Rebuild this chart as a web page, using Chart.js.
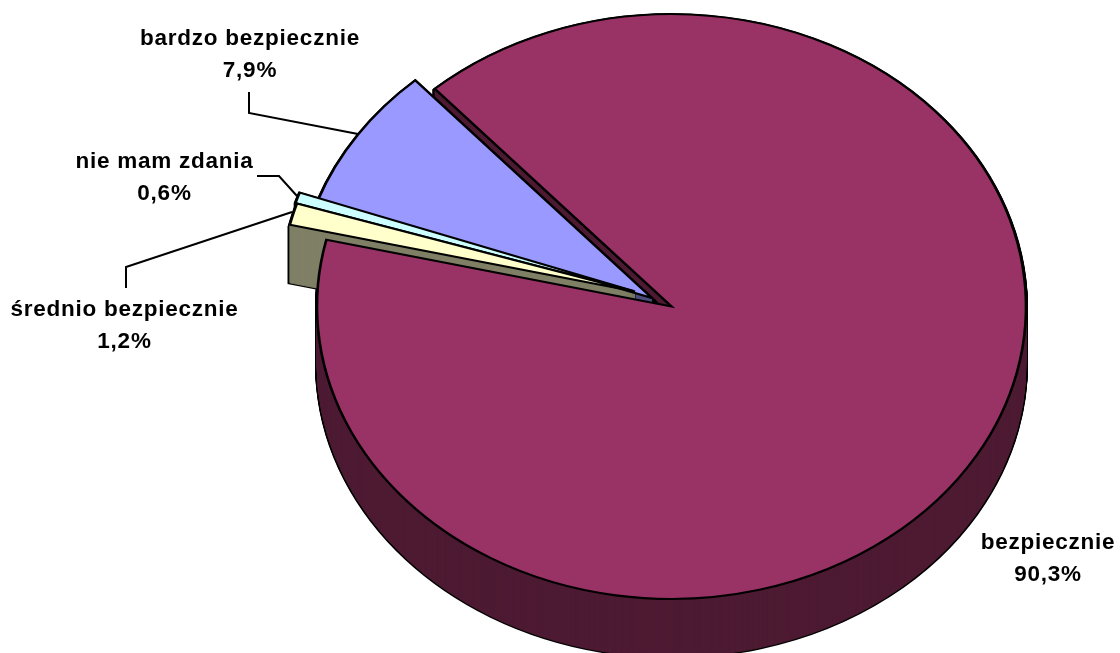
<!DOCTYPE html>
<html>
<head>
<meta charset="utf-8">
<title>Pie</title>
<script src="https://cdn.jsdelivr.net/npm/chart.js@4"></script>
<style>
    html, body { margin: 0; padding: 0; background: #fff; }
    canvas { display: block; }
</style>
</head>
<body>
<canvas id="pie" width="1120" height="653"></canvas>
<script>
    // Chart data
    var categories = ["bezpiecznie", "średnio bezpiecznie", "nie mam zdania", "bardzo bezpiecznie"];
    var shares = [90.3, 1.2, 0.6, 7.9];

    // Slice styles
    var topColors = ["#993366", "#ffffcc", "#ccffff", "#9999ff"];
    var wallColors = ["#4d1a33", "#808066", "#668080", "#4d4d80"];

    // Fake 3D: tilt, thickness and how far each slice is pulled out
    var pieCenter = {x: 671.5, y: 306.5};
    var pieRadius = 354.5;
    var tilt = 0.825;
    var depth = 58;
    var explode = [[0, 0], [-36.5, -15], [-38, -15.5], [-19.5, -8.5]];
    var wallOrder = [0, 3, 2, 1];

    // Label centres and leader lines
    var labelPos = [
        {x: 1048, y: 543},
        {x: 124.5, y: 310},
        {x: 164.5, y: 162},
        {x: 250, y: 39}
    ];
    var leaders = [
        [],
        [[126, 288], [126, 267], [292, 212]],
        [[257, 176], [279, 176], [297, 196]],
        [[249, 92], [249, 113], [358, 134]]
    ];

    function percentText(value) {
        return value.toFixed(1).replace(".", ",") + "%";
    }

    function drawSlice(ctx, arc, i, drop, style) {
        var saved = arc.options;
        ctx.save();
        ctx.translate(pieCenter.x + explode[i][0], pieCenter.y + explode[i][1] + drop);
        ctx.scale(1, tilt);
        ctx.translate(-arc.x, -arc.y);
        arc.options = Object.assign({}, saved, style);
        arc.draw(ctx);
        arc.options = saved;
        ctx.restore();
    }

    var pie3d = {
        id: "pie3d",
        beforeDatasetsDraw: function (chart) {
            var ctx = chart.ctx;
            var arcs = chart.getDatasetMeta(0).data;

            // Side walls: black silhouette first, then the wall colour on top
            wallOrder.forEach(function (i) {
                var d;
                for (d = depth; d > 0; d--) {
                    drawSlice(ctx, arcs[i], i, d, {backgroundColor: "#000", borderColor: "#000", borderWidth: 4});
                }
                for (d = depth; d > 0; d--) {
                    drawSlice(ctx, arcs[i], i, d, {backgroundColor: wallColors[i], borderColor: wallColors[i], borderWidth: 1});
                }
            });

            // Top faces
            [0, 3, 2, 1].forEach(function (i) {
                drawSlice(ctx, arcs[i], i, 0, {});
            });
            return false;
        },
        afterDraw: function (chart) {
            var ctx = chart.ctx;
            ctx.save();

            // Leader lines
            ctx.strokeStyle = "#000";
            ctx.lineWidth = 2;
            ctx.lineJoin = "miter";
            leaders.forEach(function (line) {
                ctx.beginPath();
                line.forEach(function (p, n) {
                    if (n === 0) {
                        ctx.moveTo(p[0], p[1]);
                    } else {
                        ctx.lineTo(p[0], p[1]);
                    }
                });
                ctx.stroke();
            });

            // Labels
            ctx.fillStyle = "#000";
            ctx.font = "bold 22.5px 'Liberation Sans'";
            ctx.letterSpacing = "0.75px";
            ctx.textAlign = "center";
            ctx.textBaseline = "middle";
            categories.forEach(function (name, i) {
                ctx.fillText(name, labelPos[i].x, labelPos[i].y);
                ctx.fillText(percentText(shares[i]), labelPos[i].x, labelPos[i].y + 32);
            });
            ctx.restore();
        }
    };

    var ctx1 = document.getElementById("pie").getContext("2d");
    var myChart1 = new Chart(ctx1, {
        type: "pie",
        data: {
            labels: categories,
            datasets: [{
                data: shares,
                backgroundColor: topColors,
                borderColor: "#000",
                borderWidth: 2.6,
                borderJoinStyle: "miter",
                clip: false
            }]
        },
        options: {
            responsive: false,
            animation: false,
            events: [],
            rotation: 318.1,
            radius: pieRadius,
            plugins: {
                legend: {display: false},
                tooltip: {enabled: false}
            }
        },
        plugins: [pie3d]
    });
</script>
</body>
</html>
